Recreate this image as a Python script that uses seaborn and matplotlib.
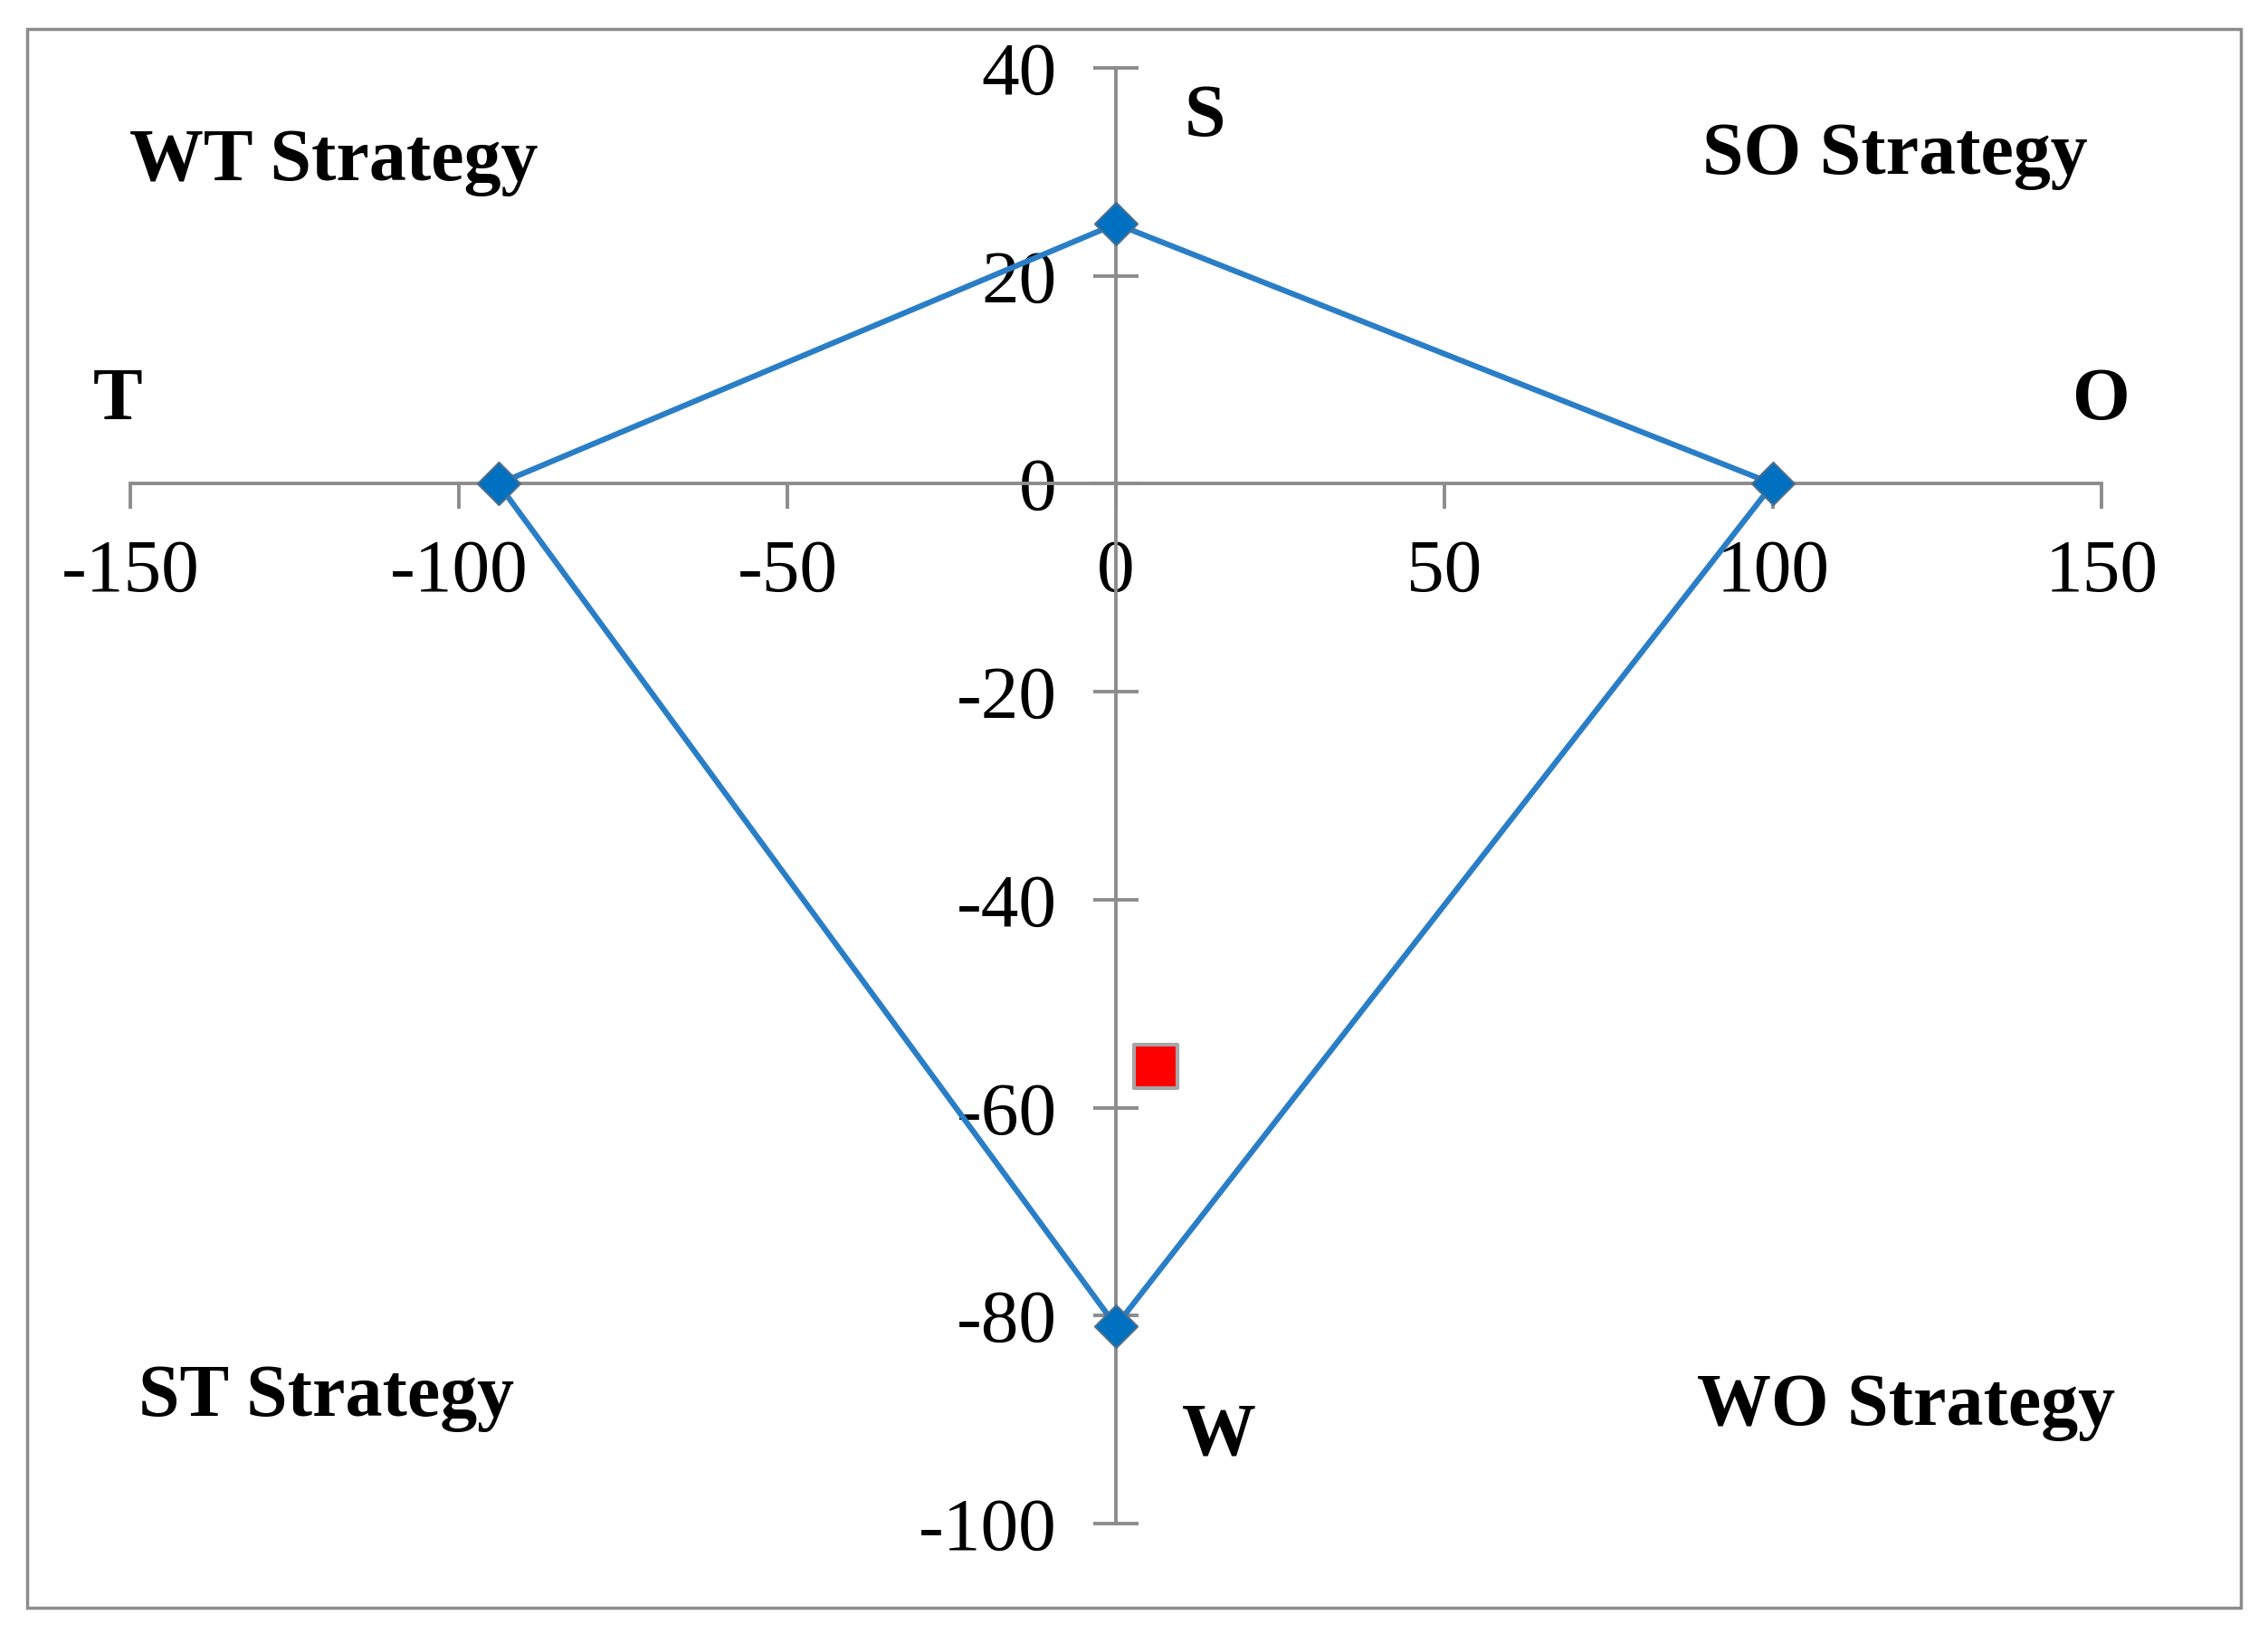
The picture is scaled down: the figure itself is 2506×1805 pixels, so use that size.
import matplotlib
matplotlib.use("Agg")
import matplotlib.pyplot as plt
import seaborn as sns
import pandas as pd
from matplotlib.patches import Rectangle

# SWOT corner values: T, S, O, W
corner_names = ['T', 'S', 'O', 'W']
corner_x = [-94, 0, 100, 0]
corner_y = [0, 25, 0, -81]

# position of the strategy point
point_x = [6]
point_y = [-56]

x_ticks = [-150, -100, -50, 0, 50, 100, 150]
y_ticks = [-100, -80, -60, -40, -20, 0, 20, 40]

sns.set_style('white')
plt.rcParams['font.family'] = ['Liberation Serif', 'DejaVu Serif']
plt.rcParams['text.color'] = 'black'

fig = plt.figure(figsize=(25.06, 18.05), dpi=100)
ax = fig.add_axes([0.0575, 0.0676, 0.8691, 0.8908])

# closed polygon T -> S -> O -> W -> T
poly = pd.DataFrame({
    'x': corner_x + corner_x[:1],
    'y': corner_y + corner_y[:1],
    'order': range(len(corner_x) + 1),
})
sns.lineplot(data=poly, x='x', y='y', sort=False, estimator=None,
             color='#2A7EC6', linewidth=4.5, ax=ax, zorder=3)

corners = pd.DataFrame({'x': corner_x, 'y': corner_y, 'name': corner_names})
sns.scatterplot(data=corners, x='x', y='y', marker='D', s=24 ** 2,
                color='#0070C0', edgecolor='#4F6E8C', linewidth=1.5,
                ax=ax, zorder=4)

pt = pd.DataFrame({'x': point_x, 'y': point_y})
sns.scatterplot(data=pt, x='x', y='y', marker='s', s=34 ** 2,
                color='#FF0000', edgecolor='#A6A6A6', linewidth=3,
                ax=ax, zorder=4)

ax.set_xlim(-150, 150)
ax.set_ylim(-100, 40)
ax.set_xticks(x_ticks)
ax.set_yticks(y_ticks)
ax.set_xlabel('')
ax.set_ylabel('')

# axes crossing at zero, Excel style
ax.spines['left'].set_position(('data', 0))
ax.spines['bottom'].set_position(('data', 0))
ax.spines['top'].set_visible(False)
ax.spines['right'].set_visible(False)
for s in ['left', 'bottom']:
    ax.spines[s].set_color('#8C8C8C')
    ax.spines[s].set_linewidth(2.8)

ax.tick_params(axis='x', bottom=True, direction='out', length=20, width=2.8,
               color='#8C8C8C', labelcolor='black', labelsize=60, pad=24)
ax.tick_params(axis='y', left=True, direction='inout', length=36, width=2.8,
               color='#8C8C8C', labelcolor='black', labelsize=60, pad=29)
ax.set_xticklabels([str(v) for v in x_ticks])
ax.set_yticklabels([str(v) for v in y_ticks])
ax.patch.set_alpha(0)

# corner letters
lab = dict(fontsize=59, fontweight='bold', ha='center', va='center', color='black')
ax.text(13.5, 35.2, 'S', **lab)
ax.text(-152, 7.9, 'T', **lab)
ax.text(150, 7.9, 'O', **lab)
ax.text(15.7, -91.6, 'W', **lab)

# quadrant captions
ax.text(-119, 30.9, 'WT Strategy', **lab)
ax.text(118.5, 31.5, 'SO Strategy', **lab)
ax.text(-120.2, -87.9, 'ST Strategy', **lab)
ax.text(120.2, -88.8, 'WO Strategy', **lab)

# outer frame
fig.patches.append(Rectangle((30 / 2506, 1 - 1776 / 1805), 2446 / 2506, 1744 / 1805,
                             transform=fig.transFigure, fill=False,
                             edgecolor='#8C8C8C', linewidth=2.5))

fig.savefig('out.png', dpi=100)
